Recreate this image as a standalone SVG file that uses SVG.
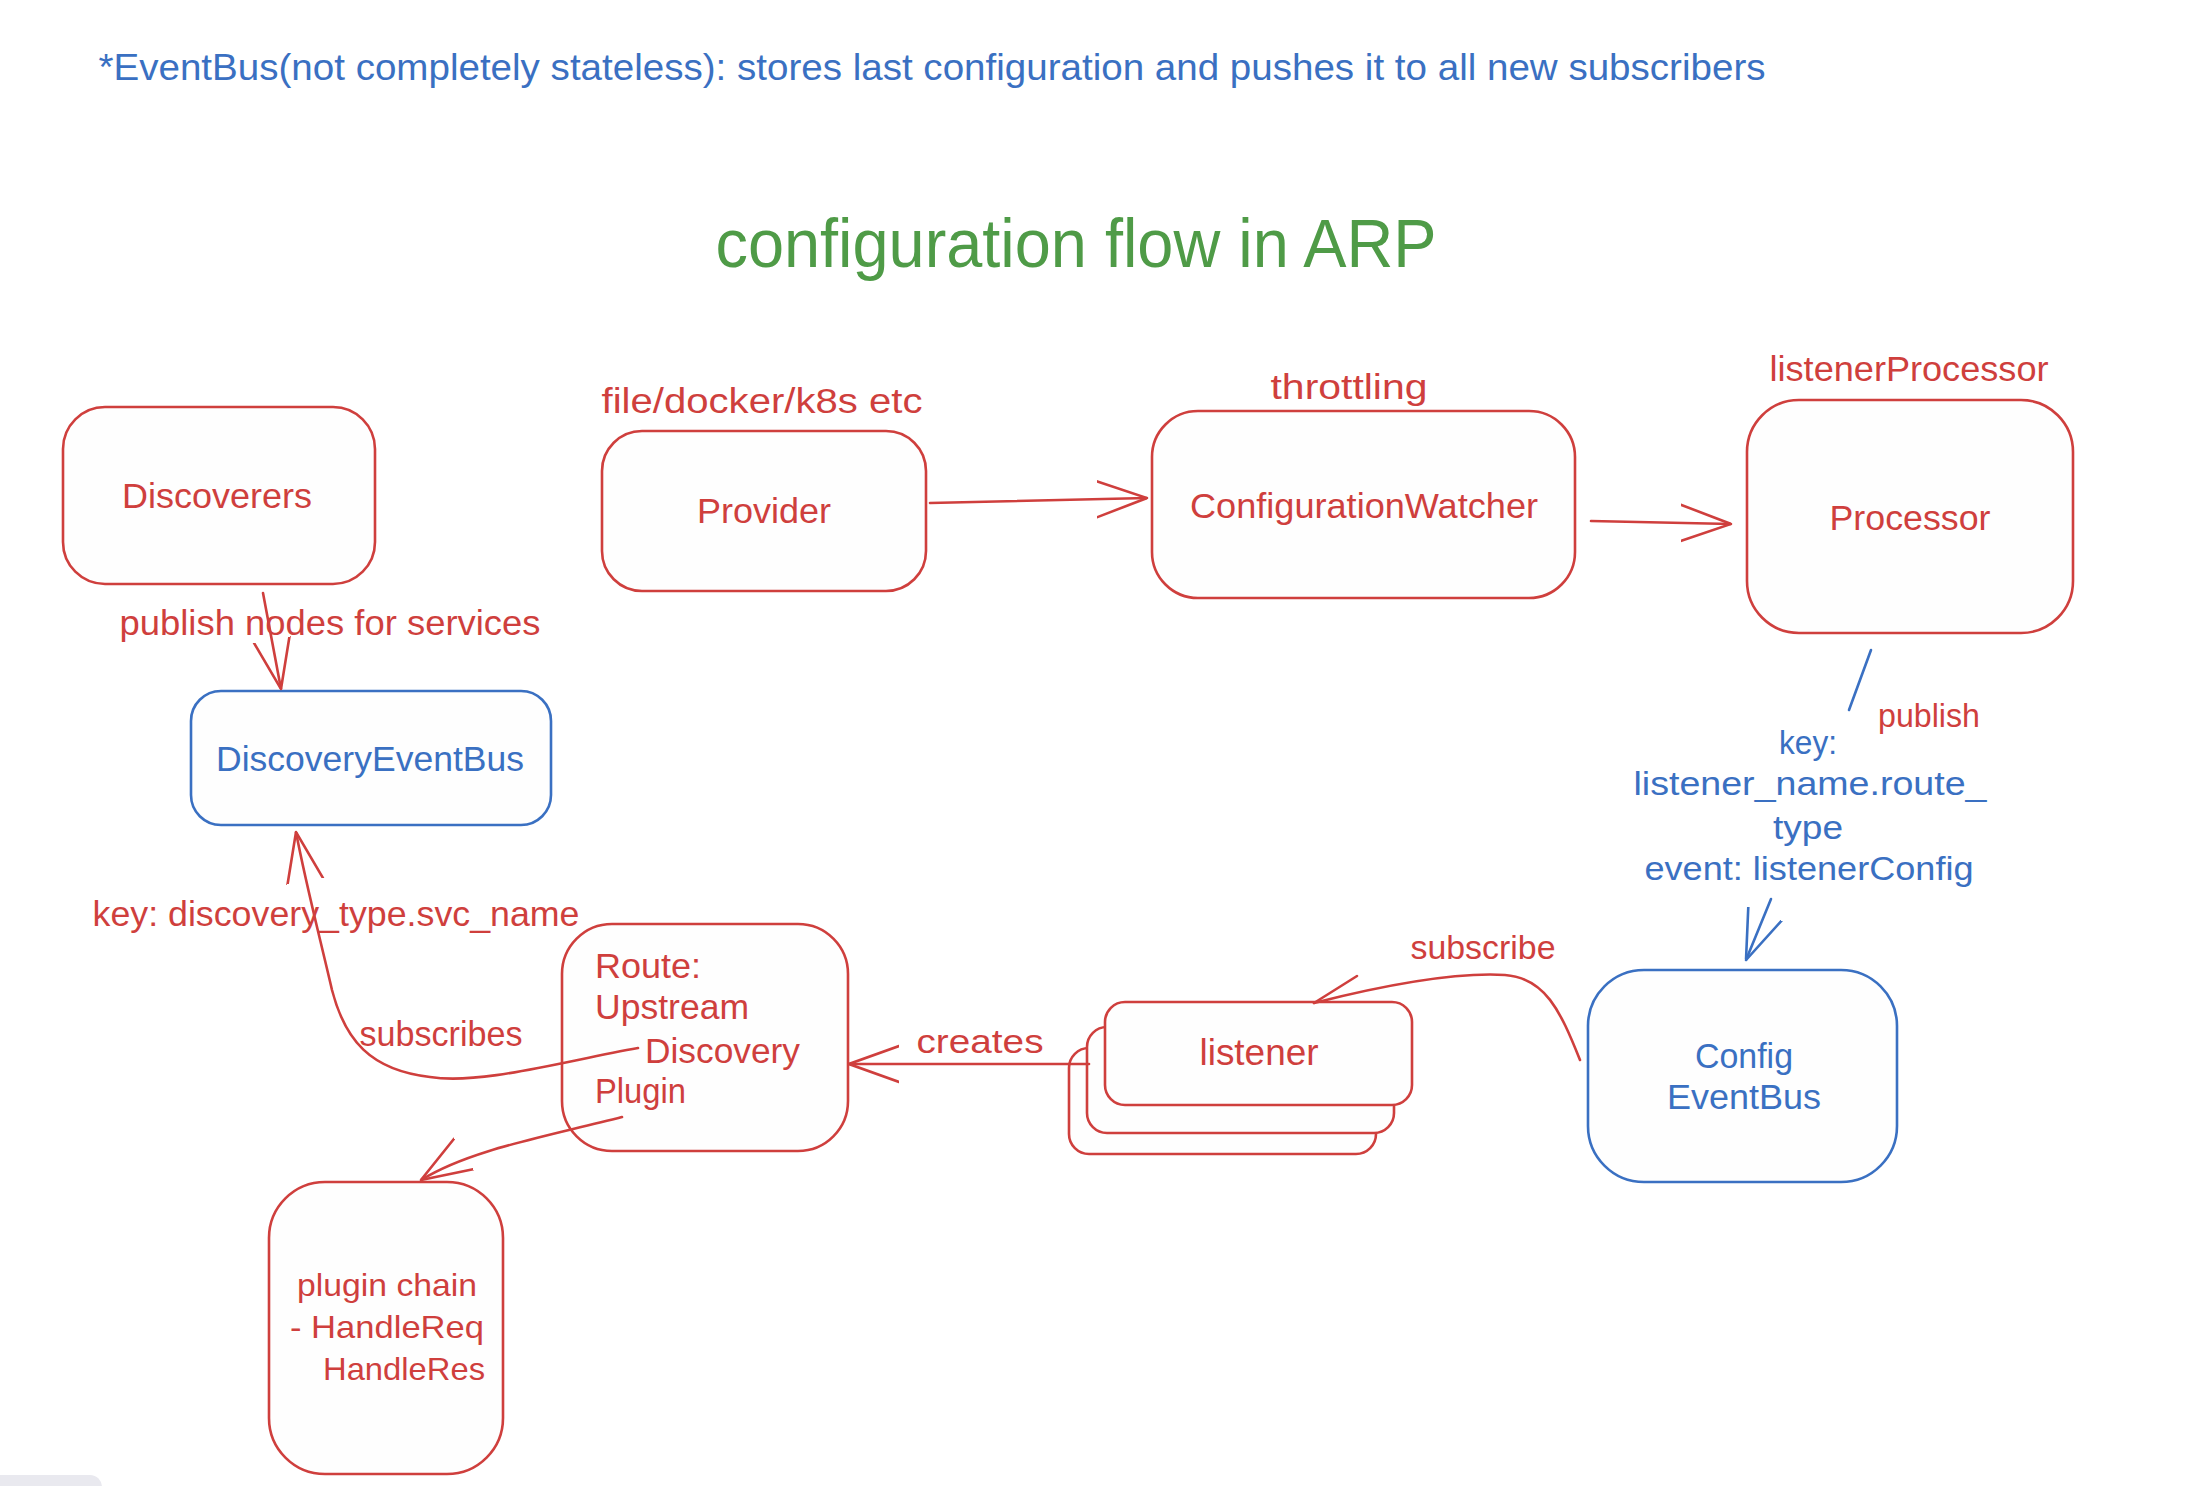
<svg xmlns="http://www.w3.org/2000/svg" width="2186" height="1486" viewBox="0 0 2186 1486">
<defs>
<style>
.bg{fill:#ffffff}
.rn{fill:#fefefe;stroke:#cf3f3d;stroke-width:2.6}
.bn{fill:#fefefe;stroke:#3a70c2;stroke-width:2.6}
.t{font-family:"Liberation Sans","DejaVu Sans",sans-serif;dominant-baseline:central}
.r{fill:#cf3f3d}
.b{fill:#3a70c2}
.g{fill:#4f9b47}
.c{text-anchor:middle}
.s{text-anchor:start}
.cr{fill:none;stroke:#cf3f3d;stroke-width:2.6;stroke-linecap:round}
.cb{fill:none;stroke:#3a70c2;stroke-width:2.6;stroke-linecap:round}
</style>
<marker id="ar" viewBox="0 0 50 40" refX="50" refY="20" markerWidth="50" markerHeight="40" markerUnits="userSpaceOnUse" orient="auto">
<path d="M0,2 L50,20 L0,38" fill="none" stroke="#cf3f3d" stroke-width="2.6" stroke-linecap="round"/>
</marker>
<marker id="ab" viewBox="0 0 50 40" refX="50" refY="20" markerWidth="50" markerHeight="40" markerUnits="userSpaceOnUse" orient="auto">
<path d="M0,2 L50,20 L0,38" fill="none" stroke="#3a70c2" stroke-width="2.6" stroke-linecap="round"/>
</marker>
</defs>
<rect class="bg" x="0" y="0" width="2186" height="1486"/>
<rect x="-20" y="1475" width="122" height="40" rx="12" fill="#e9e9ef"/>

<g id="note">
<text class="t b c" x="932" y="67" font-size="37" textLength="1667" lengthAdjust="spacingAndGlyphs">*EventBus(not completely stateless): stores last configuration and pushes it to all new subscribers</text>
</g>
<g id="title">
<text class="t g c" x="1076" y="243" font-size="68" textLength="721" lengthAdjust="spacingAndGlyphs">configuration flow in ARP</text>
</g>

<g id="discoverers">
<rect class="rn" x="63" y="407" width="312" height="177" rx="42"/>
<text class="t r c" x="217" y="495" font-size="35" textLength="190" lengthAdjust="spacingAndGlyphs">Discoverers</text>
</g>
<g id="provider">
<rect class="rn" x="602" y="431" width="324" height="160" rx="40"/>
<text class="t r c" x="764" y="510" font-size="35" textLength="134" lengthAdjust="spacingAndGlyphs">Provider</text>
<text class="t r c" x="762" y="400" font-size="35" textLength="321" lengthAdjust="spacingAndGlyphs">file/docker/k8s etc</text>
</g>
<g id="configurationWatcher">
<rect class="rn" x="1152" y="411" width="423" height="187" rx="46"/>
<text class="t r c" x="1364" y="505" font-size="35" textLength="348" lengthAdjust="spacingAndGlyphs">ConfigurationWatcher</text>
<text class="t r c" x="1349" y="386" font-size="35" textLength="157" lengthAdjust="spacingAndGlyphs">throttling</text>
</g>
<g id="processor">
<rect class="rn" x="1747" y="400" width="326" height="233" rx="52"/>
<text class="t r c" x="1910" y="517" font-size="35" textLength="161" lengthAdjust="spacingAndGlyphs">Processor</text>
<text class="t r c" x="1909" y="368" font-size="35" textLength="279" lengthAdjust="spacingAndGlyphs">listenerProcessor</text>
</g>
<g id="discoveryEventBus">
<rect class="bn" x="191" y="691" width="360" height="134" rx="30"/>
<text class="t b c" x="370" y="758" font-size="35" textLength="308" lengthAdjust="spacingAndGlyphs">DiscoveryEventBus</text>
</g>
<g id="configEventBus">
<rect class="bn" x="1588" y="970" width="309" height="212" rx="56"/>
<text class="t b c" x="1744" y="1055" font-size="35" textLength="98" lengthAdjust="spacingAndGlyphs">Config</text>
<text class="t b c" x="1744" y="1096" font-size="35" textLength="154" lengthAdjust="spacingAndGlyphs">EventBus</text>
</g>
<g id="listener">
<rect class="rn" x="1069" y="1048" width="307" height="106" rx="20"/>
<rect class="rn" x="1087" y="1027" width="307" height="106" rx="20"/>
<rect class="rn" x="1105" y="1002" width="307" height="103" rx="20"/>
<text class="t r c" x="1259" y="1052" font-size="37" textLength="119" lengthAdjust="spacingAndGlyphs">listener</text>
</g>
<g id="route">
<rect class="rn" x="562" y="924" width="286" height="227" rx="50"/>
<text class="t r s" x="595" y="965" font-size="35" textLength="106" lengthAdjust="spacingAndGlyphs">Route:</text>
<text class="t r s" x="595" y="1006" font-size="35" textLength="154" lengthAdjust="spacingAndGlyphs">Upstream</text>
<text class="t r s" x="645" y="1050" font-size="35" textLength="155" lengthAdjust="spacingAndGlyphs">Discovery</text>
<text class="t r s" x="595" y="1090" font-size="35" textLength="91" lengthAdjust="spacingAndGlyphs">Plugin</text>
</g>
<g id="pluginChain">
<rect class="rn" x="269" y="1182" width="234" height="292" rx="56"/>
<text class="t r s" x="297" y="1285" font-size="32" textLength="180" lengthAdjust="spacingAndGlyphs">plugin chain</text>
<text class="t r s" x="290" y="1327" font-size="32" textLength="194" lengthAdjust="spacingAndGlyphs">- HandleReq</text>
<text class="t r s" x="323" y="1369" font-size="32" textLength="162" lengthAdjust="spacingAndGlyphs">HandleRes</text>
</g>

<g id="connectors">
<path class="cr" d="M263,593 L281,689" marker-end="url(#ar)"/>
<text class="t r c" x="330" y="622" font-size="35" textLength="421" lengthAdjust="spacingAndGlyphs">publish nodes for services</text>
<path class="cr" d="M930,503 L1147,498" marker-end="url(#ar)"/>
<path class="cr" d="M1591,521 L1731,524" marker-end="url(#ar)"/>
<path class="cb" d="M1871,650 L1849,710"/>
<path class="cb" d="M1771,899 L1746,960" marker-end="url(#ab)"/>
<text class="t r c" x="1929" y="715" font-size="34" textLength="102" lengthAdjust="spacingAndGlyphs">publish</text>
<text class="t b c" x="1808" y="742" font-size="34" textLength="58" lengthAdjust="spacingAndGlyphs">key:</text>
<text class="t b c" x="1810" y="783" font-size="34" textLength="353" lengthAdjust="spacingAndGlyphs">listener_name.route_</text>
<text class="t b c" x="1808" y="827" font-size="34" textLength="70" lengthAdjust="spacingAndGlyphs">type</text>
<text class="t b c" x="1809" y="868" font-size="34" textLength="329" lengthAdjust="spacingAndGlyphs">event: listenerConfig</text>
<path class="cr" d="M1580,1060 C1560,1010 1545,978 1505,975 C1455,972 1385,985 1314,1003"/>
<path class="cr" d="M1314,1003 L1357,976"/>
<text class="t r c" x="1483" y="947" font-size="34" textLength="145" lengthAdjust="spacingAndGlyphs">subscribe</text>
<path class="cr" d="M1089,1064 L849,1064" marker-end="url(#ar)"/>
<text class="t r c" x="980" y="1041" font-size="34" textLength="127" lengthAdjust="spacingAndGlyphs">creates</text>
<path class="cr" d="M638,1048 C560,1062 480,1085 430,1077 C370,1070 345,1040 332,990 C318,930 305,880 296,832" marker-end="url(#ar)"/>
<text class="t r c" x="441" y="1033" font-size="35" textLength="163" lengthAdjust="spacingAndGlyphs">subscribes</text>
<text class="t r c" x="336" y="913" font-size="35" textLength="487" lengthAdjust="spacingAndGlyphs">key: discovery_type.svc_name</text>
<path class="cr" d="M622,1117 C540,1138 470,1150 421,1180" marker-end="url(#ar)"/>
</g>
</svg>
